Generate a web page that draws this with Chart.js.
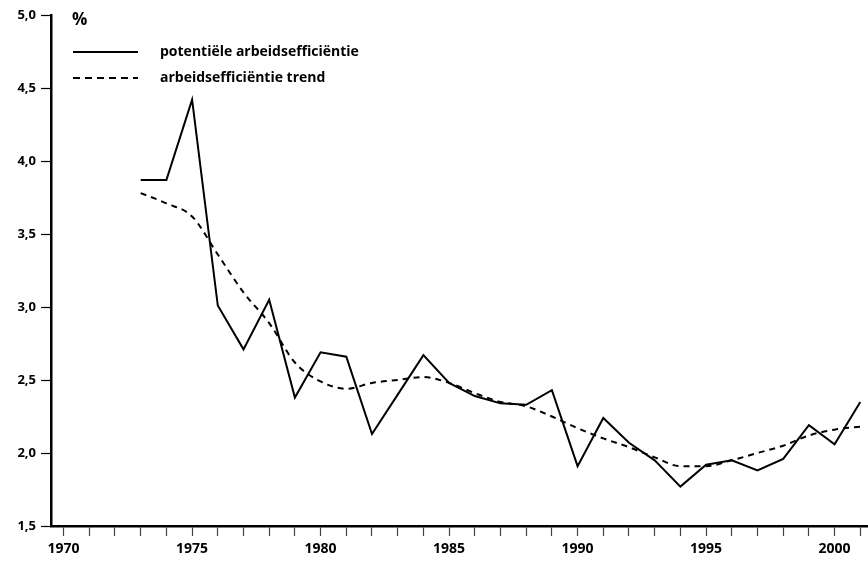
<!DOCTYPE html>
<html>
<head>
<meta charset="utf-8">
<script src="https://cdn.jsdelivr.net/npm/chart.js@4"></script>
<style>
  html, body { margin: 0; padding: 0; background: #fff; }
  #wrap { width: 868px; height: 570px; position: relative; }
</style>
</head>
<body>
<div id="wrap"><canvas id="chart"></canvas></div>
<script>
// --- data ---
const years = [1973, 1974, 1975, 1976, 1977, 1978, 1979, 1980, 1981, 1982, 1983, 1984, 1985, 1986, 1987,
               1988, 1989, 1990, 1991, 1992, 1993, 1994, 1995, 1996, 1997, 1998, 1999, 2000, 2001];
const potential = [3.87, 3.87, 4.42, 3.01, 2.71, 3.05, 2.38, 2.69, 2.66, 2.13, 2.40, 2.67, 2.48, 2.39, 2.34,
                   2.33, 2.43, 1.91, 2.24, 2.07, 1.95, 1.77, 1.92, 1.95, 1.88, 1.96, 2.19, 2.06, 2.35];
const trend = [3.78, 3.71, 3.62, 3.36, 3.10, 2.89, 2.62, 2.49, 2.44, 2.48, 2.50, 2.52, 2.48, 2.41, 2.35,
               2.32, 2.25, 2.17, 2.10, 2.04, 1.97, 1.91, 1.91, 1.95, 2.00, 2.05, 2.12, 2.16, 2.18];
const seriesNames = ['potentiële arbeidsefficiëntie', 'arbeidsefficiëntie trend'];
const xTicks = [1970, 1971, 1972, 1973, 1974, 1975, 1976, 1977, 1978, 1979, 1980, 1981, 1982, 1983, 1984, 1985,
                1986, 1987, 1988, 1989, 1990, 1991, 1992, 1993, 1994, 1995, 1996, 1997, 1998, 1999, 2000, 2001];
const xLabels = [1970, 1975, 1980, 1985, 1990, 1995, 2000];
const yUnit = '%';

const FONT = '"Open Sans", Lato, sans-serif';

// legend + unit label drawn by hand, the original has them inside the plot
const legendPlugin = {
  id: 'legendInPlot',
  afterDraw(chart) {
    const c = chart.ctx;
    c.save();
    c.fillStyle = '#000';
    c.font = 'bold 17px ' + FONT;
    c.textBaseline = 'middle';
    c.fillText(yUnit, 72, 20);

    const rows = [
      { y: 52, dash: [] },
      { y: 78, dash: [7, 5] }
    ];
    c.font = 'bold 14px ' + FONT;
    rows.forEach((r, i) => {
      c.beginPath();
      c.setLineDash(r.dash);
      c.lineWidth = 2;
      c.strokeStyle = '#000';
      c.moveTo(73, r.y);
      c.lineTo(138, r.y);
      c.stroke();
      c.setLineDash([]);
      c.fillText(seriesNames[i], 160, r.y);
    });
    c.restore();
  }
};

new Chart(document.getElementById('chart'), {
  type: 'line',
  data: {
    datasets: [
      {
        label: seriesNames[0],
        data: years.map((y, i) => ({ x: y, y: potential[i] })),
        borderColor: '#000',
        borderWidth: 2,
        pointRadius: 0,
        tension: 0
      },
      {
        label: seriesNames[1],
        data: years.map((y, i) => ({ x: y, y: trend[i] })),
        borderColor: '#000',
        borderWidth: 2,
        borderDash: [6, 5],
        pointRadius: 0,
        cubicInterpolationMode: 'monotone'
      }
    ]
  },
  options: {
    responsive: true,
    maintainAspectRatio: false,
    animation: false,
    layout: { padding: { top: 15, right: 0, left: 0, bottom: 0 } },
    plugins: { legend: { display: false }, tooltip: { enabled: false } },
    scales: {
      x: {
        type: 'linear',
        min: 1969.51,
        max: 2001.3,
        afterBuildTicks: (scale) => { scale.ticks = xTicks.map(v => ({ value: v })); },
        afterFit: (scale) => { scale.height = 44; },
        border: { color: '#000', width: 2.5 },
        grid: { drawOnChartArea: false, tickLength: 10, tickColor: '#444', tickWidth: 1.2 },
        ticks: {
          autoSkip: false,
          maxRotation: 0,
          padding: 5,
          color: '#000',
          font: { family: FONT, size: 14, weight: 'bold' },
          callback: (v) => xLabels.includes(v) ? String(v) : ''
        }
      },
      y: {
        min: 1.5,
        max: 5.0,
        afterFit: (scale) => { scale.width = 51; },
        border: { color: '#000', width: 2.5 },
        grid: { drawOnChartArea: false, tickLength: 10, tickColor: '#000', tickWidth: 1.2 },
        ticks: {
          stepSize: 0.5,
          padding: 5,
          color: '#000',
          font: { family: FONT, size: 13, weight: 'bold' },
          callback: (v) => v.toFixed(1).replace('.', ',')
        }
      }
    }
  },
  plugins: [legendPlugin]
});
</script>
</body>
</html>
